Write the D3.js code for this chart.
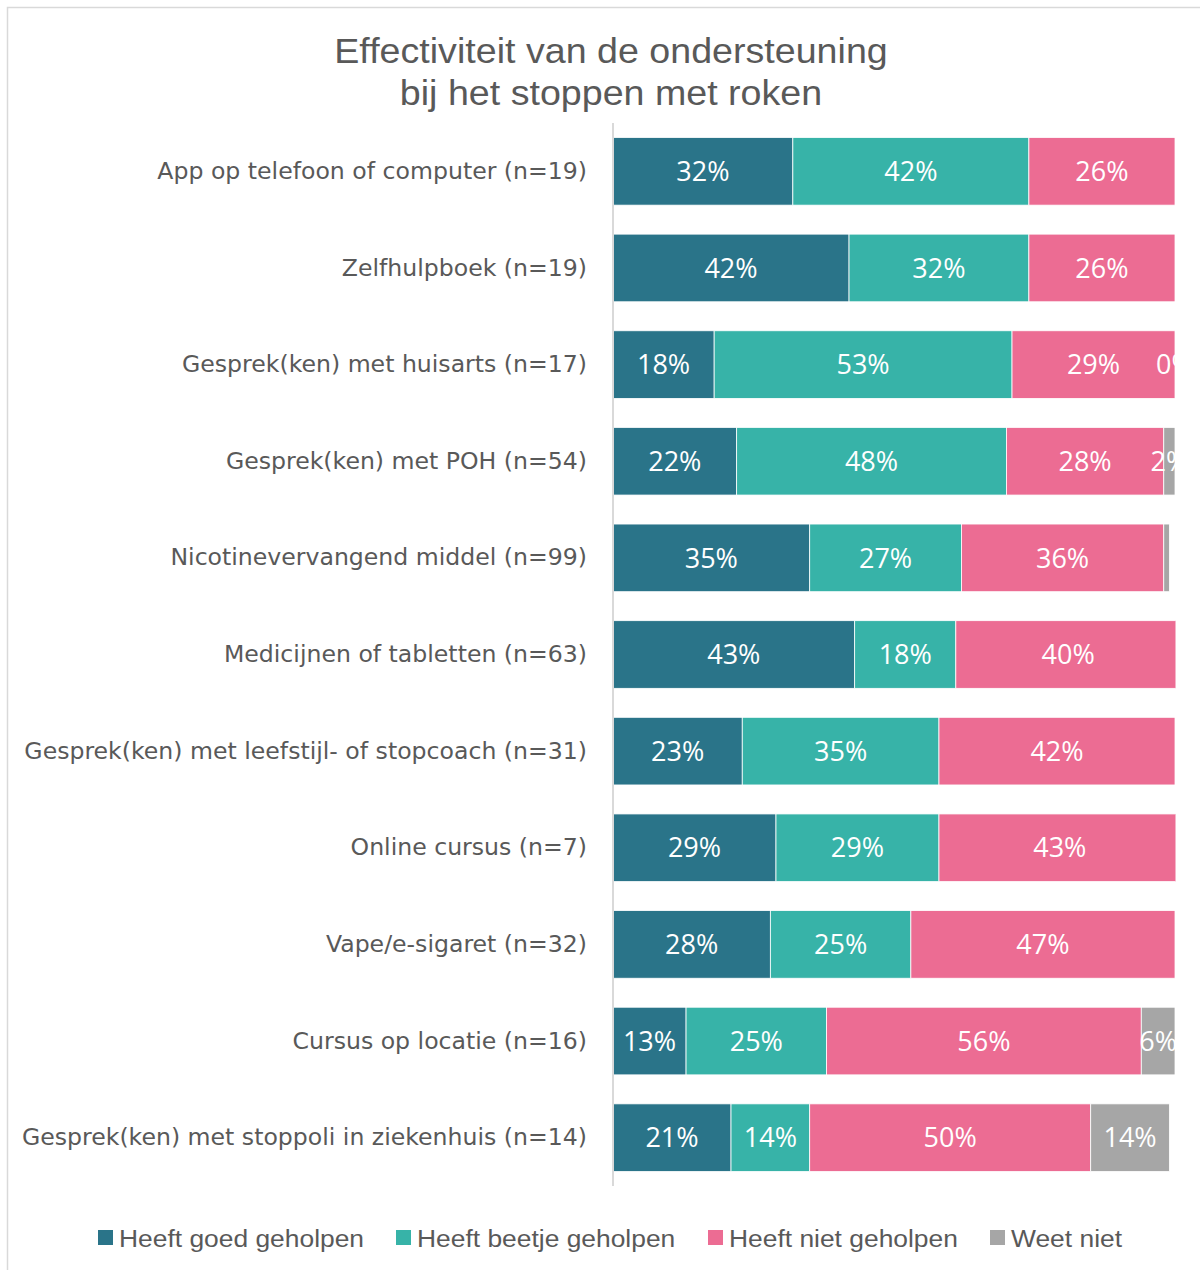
<!DOCTYPE html>
<html>
<head>
<meta charset="utf-8">
<script src="https://cdn.jsdelivr.net/npm/d3@7"></script>
<style>
  html, body { margin: 0; padding: 0; background: #fff; }
  svg { display: block; }
</style>
</head>
<body>
<svg id="chart" width="1200" height="1270"></svg>
<script>
// Support types, top to bottom
const categories = [
  "App op telefoon of computer (n=19)",
  "Zelfhulpboek (n=19)",
  "Gesprek(ken) met huisarts (n=17)",
  "Gesprek(ken) met POH (n=54)",
  "Nicotinevervangend middel (n=99)",
  "Medicijnen of tabletten (n=63)",
  "Gesprek(ken) met leefstijl- of stopcoach (n=31)",
  "Online cursus (n=7)",
  "Vape/e-sigaret (n=32)",
  "Cursus op locatie (n=16)",
  "Gesprek(ken) met stoppoli in ziekenhuis (n=14)"
];

const seriesNames = ["Heeft goed geholpen", "Heeft beetje geholpen", "Heeft niet geholpen", "Weet niet"];

// Percentages per series, one value per category
const goedGeholpen   = [32, 42, 18, 22, 35, 43, 23, 29, 28, 13, 21];
const beetjeGeholpen = [42, 32, 53, 48, 27, 18, 35, 29, 25, 25, 14];
const nietGeholpen   = [26, 26, 29, 28, 36, 40, 42, 43, 47, 56, 50];
const weetNiet       = [null, null, 0, 2, 1, null, null, null, null, 6, 14];

// Which "Weet niet" values carry a label
const weetNietLabel  = [false, false, true, true, false, false, false, false, false, true, true];

const colors = ["#2A7489", "#37B3A8", "#EC6C93", "#A6A6A6"];

const svg = d3.select("#chart");
const W = 1200, H = 1270;

// outer frame
svg.append("rect")
  .attr("x", 7.5).attr("y", 7.5)
  .attr("width", W).attr("height", H)
  .attr("fill", "#fff").attr("stroke", "#d9d9d9").attr("stroke-width", 1.5);

// title
const title = svg.append("g")
  .attr("transform", "translate(611,0) scale(1.075,1)")
  .append("text")
  .attr("text-anchor", "middle")
  .attr("font-family", "'Liberation Sans', Arial, sans-serif")
  .attr("font-size", 35)
  .attr("fill", "#595959");
title.append("tspan").attr("x", 0).attr("y", 63).text("Effectiviteit van de ondersteuning");
title.append("tspan").attr("x", 0).attr("y", 105).text("bij het stoppen met roken");

const plotLeft = 613, plotRight = 1175, plotTop = 123, plotBottom = 1186;

const x = d3.scaleLinear().domain([0, 100]).range([plotLeft, plotRight]);
const y = d3.scaleBand().domain(categories).range([plotTop, plotBottom])
  .paddingInner(0.3).paddingOuter(0.15);

// build stacked rows
const seriesValues = [goedGeholpen, beetjeGeholpen, nietGeholpen, weetNiet];
const rows = categories.map((c, i) => {
  const r = { category: c };
  seriesNames.forEach((s, k) => { r[s] = seriesValues[k][i] == null ? 0 : seriesValues[k][i]; });
  return r;
});
const stacked = d3.stack().keys(seriesNames)(rows);

svg.append("clipPath").attr("id", "plotClip")
  .append("rect")
  .attr("x", plotLeft).attr("y", plotTop)
  .attr("width", plotRight - plotLeft + 0.5).attr("height", plotBottom - plotTop);

const plot = svg.append("g").attr("clip-path", "url(#plotClip)");

stacked.forEach((layer, k) => {
  const g = plot.append("g").attr("fill", colors[k]);
  g.selectAll("rect")
    .data(layer.filter(d => d[1] - d[0] > 0))
    .join("rect")
    .attr("x", d => x(d[0]))
    .attr("y", d => y(d.data.category))
    .attr("width", d => x(d[1]) - x(d[0]))
    .attr("height", y.bandwidth())
    .attr("stroke", "#fff")
    .attr("stroke-width", 0.8);
});

// value labels
stacked.forEach((layer, k) => {
  const src = seriesValues[k];
  const labelled = layer.filter((d, i) => src[i] != null && (k < 3 || weetNietLabel[i]));
  plot.append("g")
    .selectAll("text")
    .data(labelled)
    .join("text")
    .attr("x", d => x((d[0] + d[1]) / 2))
    .attr("y", d => y(d.data.category) + y.bandwidth() / 2)
    .attr("dy", "0.36em")
    .attr("text-anchor", "middle")
    .attr("font-family", "'Open Sans', 'Noto Sans', sans-serif")
    .attr("font-size", 27)
    .attr("fill", "#fff")
    .text(d => (d[1] - d[0]) + "%");
});

// category axis
const yAxis = svg.append("g").attr("transform", `translate(${plotLeft},0)`)
  .call(d3.axisLeft(y).tickSize(0).tickPadding(26));
yAxis.select(".domain").attr("stroke", "#d9d9d9").attr("stroke-width", 2)
  .attr("d", `M0,${plotTop}V${plotBottom}`);
yAxis.selectAll(".tick text")
  .attr("font-family", "'DejaVu Sans', sans-serif")
  .attr("font-size", 23.6)
  .attr("fill", "#595959");

// legend
const legendX = [98, 396, 708, 990];
const legend = svg.append("g");
seriesNames.forEach((s, k) => {
  legend.append("rect")
    .attr("x", legendX[k]).attr("y", 1230)
    .attr("width", 15).attr("height", 15)
    .attr("fill", colors[k]);
  legend.append("g")
    .attr("transform", `translate(${legendX[k] + 21},1247) scale(1.1,1)`)
    .append("text")
    .attr("font-family", "'Liberation Sans', Arial, sans-serif")
    .attr("font-size", 24)
    .attr("fill", "#595959")
    .text(s);
});
</script>
</body>
</html>
